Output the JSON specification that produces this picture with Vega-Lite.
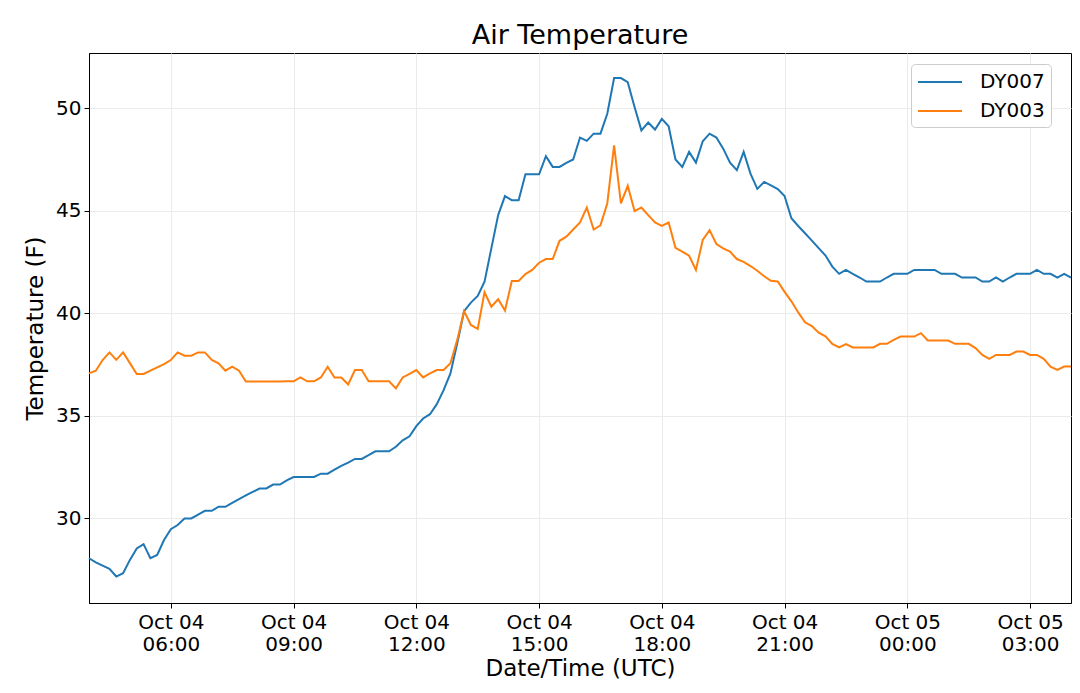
{
  "$schema": "https://vega.github.io/schema/vega-lite/v6.json",
  "width": 982,
  "height": 550,
  "autosize": "none",
  "padding": {"left": 89, "top": 53, "right": 9, "bottom": 90},
  "background": "white",
  "title": {"text": "Air Temperature", "fontSize": 27, "fontWeight": "normal", "offset": 3, "color": "black"},
  "data": {
    "values": [
      {"t": "2018-10-04T04:00:00Z", "DY007": 28.06, "DY003": 37.07},
      {"t": "2018-10-04T04:10:00Z", "DY007": 27.86, "DY003": 37.2},
      {"t": "2018-10-04T04:20:00Z", "DY007": 27.7, "DY003": 37.72},
      {"t": "2018-10-04T04:30:00Z", "DY007": 27.54, "DY003": 38.09},
      {"t": "2018-10-04T04:40:00Z", "DY007": 27.17, "DY003": 37.73},
      {"t": "2018-10-04T04:50:00Z", "DY007": 27.33, "DY003": 38.09},
      {"t": "2018-10-04T05:00:00Z", "DY007": 27.98, "DY003": 37.57},
      {"t": "2018-10-04T05:10:00Z", "DY007": 28.54, "DY003": 37.04},
      {"t": "2018-10-04T05:20:00Z", "DY007": 28.75, "DY003": 37.04},
      {"t": "2018-10-04T05:30:00Z", "DY007": 28.06, "DY003": 37.2},
      {"t": "2018-10-04T05:40:00Z", "DY007": 28.22, "DY003": 37.36},
      {"t": "2018-10-04T05:50:00Z", "DY007": 28.95, "DY003": 37.52},
      {"t": "2018-10-04T06:00:00Z", "DY007": 29.48, "DY003": 37.72},
      {"t": "2018-10-04T06:10:00Z", "DY007": 29.68, "DY003": 38.09},
      {"t": "2018-10-04T06:20:00Z", "DY007": 30.0, "DY003": 37.93},
      {"t": "2018-10-04T06:30:00Z", "DY007": 30.0, "DY003": 37.93},
      {"t": "2018-10-04T06:40:00Z", "DY007": 30.19, "DY003": 38.09},
      {"t": "2018-10-04T06:50:00Z", "DY007": 30.37, "DY003": 38.09},
      {"t": "2018-10-04T07:00:00Z", "DY007": 30.37, "DY003": 37.72},
      {"t": "2018-10-04T07:10:00Z", "DY007": 30.57, "DY003": 37.56},
      {"t": "2018-10-04T07:20:00Z", "DY007": 30.57, "DY003": 37.2},
      {"t": "2018-10-04T07:30:00Z", "DY007": 30.76, "DY003": 37.4},
      {"t": "2018-10-04T07:40:00Z", "DY007": 30.94, "DY003": 37.2},
      {"t": "2018-10-04T07:50:00Z", "DY007": 31.12, "DY003": 36.67},
      {"t": "2018-10-04T08:00:00Z", "DY007": 31.29, "DY003": 36.67},
      {"t": "2018-10-04T08:10:00Z", "DY007": 31.46, "DY003": 36.67},
      {"t": "2018-10-04T08:20:00Z", "DY007": 31.46, "DY003": 36.67},
      {"t": "2018-10-04T08:30:00Z", "DY007": 31.65, "DY003": 36.67},
      {"t": "2018-10-04T08:40:00Z", "DY007": 31.65, "DY003": 36.67},
      {"t": "2018-10-04T08:50:00Z", "DY007": 31.85, "DY003": 36.68},
      {"t": "2018-10-04T09:00:00Z", "DY007": 32.02, "DY003": 36.68},
      {"t": "2018-10-04T09:10:00Z", "DY007": 32.02, "DY003": 36.87},
      {"t": "2018-10-04T09:20:00Z", "DY007": 32.02, "DY003": 36.68},
      {"t": "2018-10-04T09:30:00Z", "DY007": 32.02, "DY003": 36.68},
      {"t": "2018-10-04T09:40:00Z", "DY007": 32.18, "DY003": 36.87},
      {"t": "2018-10-04T09:50:00Z", "DY007": 32.18, "DY003": 37.39},
      {"t": "2018-10-04T10:00:00Z", "DY007": 32.38, "DY003": 36.87},
      {"t": "2018-10-04T10:10:00Z", "DY007": 32.56, "DY003": 36.87},
      {"t": "2018-10-04T10:20:00Z", "DY007": 32.72, "DY003": 36.53},
      {"t": "2018-10-04T10:30:00Z", "DY007": 32.9, "DY003": 37.23},
      {"t": "2018-10-04T10:40:00Z", "DY007": 32.9, "DY003": 37.23},
      {"t": "2018-10-04T10:50:00Z", "DY007": 33.08, "DY003": 36.68},
      {"t": "2018-10-04T11:00:00Z", "DY007": 33.27, "DY003": 36.68},
      {"t": "2018-10-04T11:10:00Z", "DY007": 33.27, "DY003": 36.68},
      {"t": "2018-10-04T11:20:00Z", "DY007": 33.27, "DY003": 36.68},
      {"t": "2018-10-04T11:30:00Z", "DY007": 33.49, "DY003": 36.34},
      {"t": "2018-10-04T11:40:00Z", "DY007": 33.81, "DY003": 36.87},
      {"t": "2018-10-04T11:50:00Z", "DY007": 34.0, "DY003": 37.04},
      {"t": "2018-10-04T12:00:00Z", "DY007": 34.5, "DY003": 37.23},
      {"t": "2018-10-04T12:10:00Z", "DY007": 34.87, "DY003": 36.87},
      {"t": "2018-10-04T12:20:00Z", "DY007": 35.08, "DY003": 37.07},
      {"t": "2018-10-04T12:30:00Z", "DY007": 35.57, "DY003": 37.23},
      {"t": "2018-10-04T12:40:00Z", "DY007": 36.25, "DY003": 37.23},
      {"t": "2018-10-04T12:50:00Z", "DY007": 37.07, "DY003": 37.56},
      {"t": "2018-10-04T13:00:00Z", "DY007": 38.53, "DY003": 38.7},
      {"t": "2018-10-04T13:10:00Z", "DY007": 40.1, "DY003": 40.1},
      {"t": "2018-10-04T13:20:00Z", "DY007": 40.52, "DY003": 39.43},
      {"t": "2018-10-04T13:30:00Z", "DY007": 40.84, "DY003": 39.24},
      {"t": "2018-10-04T13:40:00Z", "DY007": 41.54, "DY003": 41.02},
      {"t": "2018-10-04T13:50:00Z", "DY007": 43.16, "DY003": 40.32},
      {"t": "2018-10-04T14:00:00Z", "DY007": 44.78, "DY003": 40.68},
      {"t": "2018-10-04T14:10:00Z", "DY007": 45.71, "DY003": 40.13},
      {"t": "2018-10-04T14:20:00Z", "DY007": 45.51, "DY003": 41.57},
      {"t": "2018-10-04T14:30:00Z", "DY007": 45.51, "DY003": 41.57},
      {"t": "2018-10-04T14:40:00Z", "DY007": 46.77, "DY003": 41.91},
      {"t": "2018-10-04T14:50:00Z", "DY007": 46.77, "DY003": 42.11},
      {"t": "2018-10-04T15:00:00Z", "DY007": 46.77, "DY003": 42.46},
      {"t": "2018-10-04T15:10:00Z", "DY007": 47.65, "DY003": 42.64},
      {"t": "2018-10-04T15:20:00Z", "DY007": 47.13, "DY003": 42.64},
      {"t": "2018-10-04T15:30:00Z", "DY007": 47.13, "DY003": 43.53},
      {"t": "2018-10-04T15:40:00Z", "DY007": 47.33, "DY003": 43.73},
      {"t": "2018-10-04T15:50:00Z", "DY007": 47.49, "DY003": 44.08},
      {"t": "2018-10-04T16:00:00Z", "DY007": 48.56, "DY003": 44.42},
      {"t": "2018-10-04T16:10:00Z", "DY007": 48.4, "DY003": 45.15},
      {"t": "2018-10-04T16:20:00Z", "DY007": 48.75, "DY003": 44.08},
      {"t": "2018-10-04T16:30:00Z", "DY007": 48.75, "DY003": 44.28},
      {"t": "2018-10-04T16:40:00Z", "DY007": 49.72, "DY003": 45.35},
      {"t": "2018-10-04T16:50:00Z", "DY007": 51.46, "DY003": 48.18},
      {"t": "2018-10-04T17:00:00Z", "DY007": 51.46, "DY003": 45.35},
      {"t": "2018-10-04T17:10:00Z", "DY007": 51.26, "DY003": 46.21},
      {"t": "2018-10-04T17:20:00Z", "DY007": 50.05, "DY003": 44.98},
      {"t": "2018-10-04T17:30:00Z", "DY007": 48.91, "DY003": 45.15},
      {"t": "2018-10-04T17:40:00Z", "DY007": 49.29, "DY003": 44.78},
      {"t": "2018-10-04T17:50:00Z", "DY007": 48.95, "DY003": 44.42},
      {"t": "2018-10-04T18:00:00Z", "DY007": 49.47, "DY003": 44.26},
      {"t": "2018-10-04T18:10:00Z", "DY007": 49.11, "DY003": 44.42},
      {"t": "2018-10-04T18:20:00Z", "DY007": 47.49, "DY003": 43.19},
      {"t": "2018-10-04T18:30:00Z", "DY007": 47.13, "DY003": 43.0},
      {"t": "2018-10-04T18:40:00Z", "DY007": 47.86, "DY003": 42.8},
      {"t": "2018-10-04T18:50:00Z", "DY007": 47.34, "DY003": 42.11},
      {"t": "2018-10-04T19:00:00Z", "DY007": 48.38, "DY003": 43.57},
      {"t": "2018-10-04T19:10:00Z", "DY007": 48.75, "DY003": 44.05},
      {"t": "2018-10-04T19:20:00Z", "DY007": 48.56, "DY003": 43.37},
      {"t": "2018-10-04T19:30:00Z", "DY007": 48.02, "DY003": 43.16},
      {"t": "2018-10-04T19:40:00Z", "DY007": 47.33, "DY003": 43.0},
      {"t": "2018-10-04T19:50:00Z", "DY007": 46.97, "DY003": 42.64},
      {"t": "2018-10-04T20:00:00Z", "DY007": 47.86, "DY003": 42.5},
      {"t": "2018-10-04T20:10:00Z", "DY007": 46.8, "DY003": 42.3},
      {"t": "2018-10-04T20:20:00Z", "DY007": 46.06, "DY003": 42.07},
      {"t": "2018-10-04T20:30:00Z", "DY007": 46.4, "DY003": 41.8},
      {"t": "2018-10-04T20:40:00Z", "DY007": 46.23, "DY003": 41.58},
      {"t": "2018-10-04T20:50:00Z", "DY007": 46.05, "DY003": 41.55},
      {"t": "2018-10-04T21:00:00Z", "DY007": 45.71, "DY003": 41.04},
      {"t": "2018-10-04T21:10:00Z", "DY007": 44.63, "DY003": 40.58},
      {"t": "2018-10-04T21:20:00Z", "DY007": 44.25, "DY003": 40.04},
      {"t": "2018-10-04T21:30:00Z", "DY007": 43.9, "DY003": 39.56},
      {"t": "2018-10-04T21:40:00Z", "DY007": 43.54, "DY003": 39.37},
      {"t": "2018-10-04T21:50:00Z", "DY007": 43.17, "DY003": 39.05},
      {"t": "2018-10-04T22:00:00Z", "DY007": 42.81, "DY003": 38.87},
      {"t": "2018-10-04T22:10:00Z", "DY007": 42.27, "DY003": 38.5},
      {"t": "2018-10-04T22:20:00Z", "DY007": 41.92, "DY003": 38.33},
      {"t": "2018-10-04T22:30:00Z", "DY007": 42.11, "DY003": 38.49},
      {"t": "2018-10-04T22:40:00Z", "DY007": 41.92, "DY003": 38.33},
      {"t": "2018-10-04T22:50:00Z", "DY007": 41.74, "DY003": 38.33},
      {"t": "2018-10-04T23:00:00Z", "DY007": 41.54, "DY003": 38.33},
      {"t": "2018-10-04T23:10:00Z", "DY007": 41.54, "DY003": 38.33},
      {"t": "2018-10-04T23:20:00Z", "DY007": 41.54, "DY003": 38.51},
      {"t": "2018-10-04T23:30:00Z", "DY007": 41.74, "DY003": 38.51},
      {"t": "2018-10-04T23:40:00Z", "DY007": 41.92, "DY003": 38.7},
      {"t": "2018-10-04T23:50:00Z", "DY007": 41.92, "DY003": 38.86},
      {"t": "2018-10-05T00:00:00Z", "DY007": 41.92, "DY003": 38.86},
      {"t": "2018-10-05T00:10:00Z", "DY007": 42.11, "DY003": 38.86},
      {"t": "2018-10-05T00:20:00Z", "DY007": 42.11, "DY003": 39.03},
      {"t": "2018-10-05T00:30:00Z", "DY007": 42.11, "DY003": 38.67},
      {"t": "2018-10-05T00:40:00Z", "DY007": 42.11, "DY003": 38.67},
      {"t": "2018-10-05T00:50:00Z", "DY007": 41.92, "DY003": 38.67},
      {"t": "2018-10-05T01:00:00Z", "DY007": 41.92, "DY003": 38.67},
      {"t": "2018-10-05T01:10:00Z", "DY007": 41.92, "DY003": 38.51},
      {"t": "2018-10-05T01:20:00Z", "DY007": 41.74, "DY003": 38.51},
      {"t": "2018-10-05T01:30:00Z", "DY007": 41.74, "DY003": 38.51},
      {"t": "2018-10-05T01:40:00Z", "DY007": 41.74, "DY003": 38.3},
      {"t": "2018-10-05T01:50:00Z", "DY007": 41.54, "DY003": 37.97},
      {"t": "2018-10-05T02:00:00Z", "DY007": 41.54, "DY003": 37.78},
      {"t": "2018-10-05T02:10:00Z", "DY007": 41.74, "DY003": 37.97},
      {"t": "2018-10-05T02:20:00Z", "DY007": 41.54, "DY003": 37.97},
      {"t": "2018-10-05T02:30:00Z", "DY007": 41.74, "DY003": 37.97},
      {"t": "2018-10-05T02:40:00Z", "DY007": 41.92, "DY003": 38.13},
      {"t": "2018-10-05T02:50:00Z", "DY007": 41.92, "DY003": 38.13},
      {"t": "2018-10-05T03:00:00Z", "DY007": 41.92, "DY003": 37.97},
      {"t": "2018-10-05T03:10:00Z", "DY007": 42.11, "DY003": 37.97},
      {"t": "2018-10-05T03:20:00Z", "DY007": 41.92, "DY003": 37.78},
      {"t": "2018-10-05T03:30:00Z", "DY007": 41.92, "DY003": 37.4},
      {"t": "2018-10-05T03:40:00Z", "DY007": 41.74, "DY003": 37.24},
      {"t": "2018-10-05T03:50:00Z", "DY007": 41.92, "DY003": 37.4},
      {"t": "2018-10-05T04:00:00Z", "DY007": 41.74, "DY003": 37.4}
    ]
  },
  "transform": [{"fold": ["DY007", "DY003"], "as": ["station", "temp"]}],
  "mark": {"type": "line", "strokeWidth": 2},
  "encoding": {
    "x": {
      "field": "t",
      "type": "temporal",
      "title": "Date/Time (UTC)",
      "scale": {"type": "utc", "domain": [1538625600000, 1538712000000]},
      "axis": {
        "values": [1538632800000, 1538643600000, 1538654400000, 1538665200000, 1538676000000, 1538686800000, 1538697600000, 1538708400000],
        "labelExpr": "[utcFormat(datum.value, '%b %d'), utcFormat(datum.value, '%H:%M')]",
        "labelOverlap": false,
        "labelFlush": false,
        "labelLineHeight": 22,
        "labelPadding": 4,
        "tickSize": 5,
        "titlePadding": 3
      }
    },
    "y": {
      "field": "temp",
      "type": "quantitative",
      "title": "Temperature (F)",
      "scale": {"domain": [25.88, 52.68], "nice": false, "zero": false},
      "axis": {"values": [30, 35, 40, 45, 50], "tickSize": 5, "labelPadding": 3, "titlePadding": 8}
    },
    "color": {
      "field": "station",
      "type": "nominal",
      "scale": {"domain": ["DY007", "DY003"], "range": ["#1f77b4", "#ff7f0e"]},
      "legend": {
        "title": null,
        "orient": "none",
        "legendX": 822,
        "legendY": 11,
        "symbolType": "M-1,0H3",
        "symbolSize": 484,
        "symbolStrokeWidth": 2,
        "labelFontSize": 20,
        "labelOffset": 39,
        "rowPadding": 7,
        "padding": 6,
        "strokeColor": "#cccccc",
        "fillColor": "white",
        "cornerRadius": 4
      }
    }
  },
  "config": {
    "font": "DejaVu Sans",
    "view": {"stroke": "black", "strokeWidth": 1},
    "axis": {
      "domainColor": "black",
      "tickColor": "black",
      "labelColor": "black",
      "titleColor": "black",
      "gridColor": "#ebebeb",
      "labelFontSize": 20,
      "titleFontSize": 23,
      "titleFontWeight": "normal"
    },
    "legend": {"labelColor": "black"}
  }
}
